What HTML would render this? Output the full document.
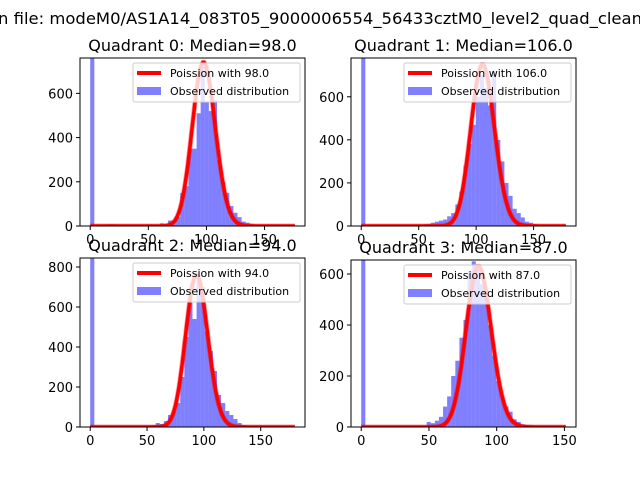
<!DOCTYPE html>
<html><head><meta charset="utf-8"><style>
html,body{margin:0;padding:0;background:#fff;}
svg{display:block;font-family:"DejaVu Sans","Liberation Sans",sans-serif;}
</style></head><body>
<svg id="fig" width="640" height="480" viewBox="0 0 640 480">
<text x="-2" y="24" font-size="16" textLength="644" lengthAdjust="spacingAndGlyphs">n file: modeM0/AS1A14_083T05_9000006554_56433cztM0_level2_quad_clean</text>
</svg>
<script>
// Quadrant data (bin counts, 50 bins from 0 to xmax)
const medians = [98.0, 106.0, 94.0, 87.0];
const xmaxes = [176, 178, 180, 151];
const peakCounts = [740, 750, 760, 630];
const q0Counts = [2000,5,5,5,8,8,6,5,5,5,5,5,5,6,8,5,6,12,5,25,20,40,150,180,350,350,510,720,560,520,570,300,200,150,90,60,40,20,15,10,5,4,3,3,3,2,2,2,2,2];
const q1Counts = [2000,3,3,3,3,3,3,3,3,3,3,3,3,4,5,8,10,15,20,25,30,45,60,100,160,280,380,470,600,700,640,560,720,400,300,200,140,80,60,40,20,15,10,5,4,3,2,2,2,2];
const q2Counts = [2000,3,3,3,3,3,3,3,3,3,3,3,3,3,3,10,20,15,30,60,80,120,250,450,620,540,760,700,480,380,280,160,120,80,60,40,20,10,5,4,3,2,2,2,2,2,2,2,2,2];
const q3Counts = [2000,3,3,3,3,3,3,3,3,3,3,3,3,3,3,3,20,15,25,40,80,120,200,260,350,420,610,650,620,560,540,400,280,180,120,80,60,30,20,10,6,4,3,2,2,2,2,2,2,2];
const allCounts = [q0Counts, q1Counts, q2Counts, q3Counts];
const xTicks = [0, 50, 100, 150];
const yTicks0 = [0, 200, 400, 600];
const yTicks2 = [0, 200, 400, 600, 800];
const allYTicks = [yTicks0, yTicks0, yTicks2, yTicks0];
const yMaxes = [760, 780, 845, 655];

const NS = "http://www.w3.org/2000/svg";
const svg = document.getElementById('fig');
function mk(tag, attrs, parent){const e=document.createElementNS(NS,tag);for(const k in attrs)e.setAttribute(k,attrs[k]);(parent||svg).appendChild(e);return e;}

const boxes = [
  {l:80,r:305,t:58,b:226},
  {l:351,r:576,t:58,b:226},
  {l:80,r:305,t:258,b:427},
  {l:351,r:576,t:260,b:427}
];

for (let q=0;q<4;q++){
  const B=boxes[q], counts=allCounts[q], xmax=xmaxes[q], n=counts.length, bw=xmax/n;
  const pad=0.05*xmax;
  const xs=v=>B.l+(v+pad)/(xmax+2*pad)*(B.r-B.l);
  const ys=v=>B.b-Math.min(v,yMaxes[q]*1.01)/yMaxes[q]*(B.b-B.t);
  const g=mk('g',{});
  
  
  const clip=mk('clipPath',{id:'c'+q},g);
  mk('rect',{x:B.l,y:B.t,width:B.r-B.l,height:B.b-B.t},clip);
  const pg=mk('g',{'clip-path':'url(#c'+q+')'},g);
  for(let i=0;i<n;i++){
    const r=mk('rect',{x:xs(i*bw),y:ys(counts[i]),width:xs((i+1)*bw)-xs(i*bw),height:B.b-ys(counts[i]),fill:'#0000ff','fill-opacity':0.5},pg);
    
    
  }
  // Poisson model curve scaled to peak
  const mu=medians[q];
  const lp=k=>{let s=-mu+k*Math.log(mu);for(let j=2;j<=k;j++)s-=Math.log(j);return s;};
  const pk=Math.exp(lp(Math.floor(mu)));
  let d='';
  for(let k=0;k<=Math.round(xmax);k++){
    const v=Math.exp(lp(k))/pk*peakCounts[q];
    d+=(k?'L':'M')+xs(k).toFixed(1)+','+ys(v).toFixed(1);
  }
  mk('path',{d:d,fill:'none',stroke:'#ff0000','stroke-width':5,'stroke-opacity':0.4},pg);
  const line2=mk('path',{d:d,fill:'none',stroke:'#ff0000','stroke-width':3.5},pg);
  
  
  const frame=mk('rect',{x:B.l,y:B.t,width:B.r-B.l,height:B.b-B.t,fill:'none',stroke:'#000','stroke-width':1},g);
  
  
  for(const t of xTicks){
    mk('line',{x1:xs(t),x2:xs(t),y1:B.b,y2:B.b+4,stroke:'#000'},g);
    const tx=mk('text',{x:xs(t),y:B.b+18,'font-size':13,'text-anchor':'middle'},g);
    tx.textContent=t;
    
    
  }
  for(const t of allYTicks[q]){
    mk('line',{x1:B.l-4,x2:B.l,y1:ys(t),y2:ys(t),stroke:'#000'},g);
    const ty=mk('text',{x:B.l-7,y:ys(t)+5,'font-size':13,'text-anchor':'end'},g);
    ty.textContent=t;
    
    
  }
  const tt=mk('text',{x:(B.l+B.r)/2,y:B.t-7,'font-size':16,'text-anchor':'middle'},g);
  tt.textContent='Quadrant '+q+': Median='+medians[q].toFixed(1);
  
  
  // legend
  const lg=mk('g',{},g);
  
  
  const lx=B.r-172, ly=B.t+5;
  mk('rect',{x:lx,y:ly,width:167,height:39,fill:'#fff','fill-opacity':0.8,stroke:'#ccc',rx:2},lg);
  mk('line',{x1:lx+4,x2:lx+28,y1:ly+10,y2:ly+10,stroke:'#ff0000','stroke-width':4},lg);
  const t1=mk('text',{x:lx+37,y:ly+14,'font-size':11},lg);
  t1.textContent='Poission with '+medians[q].toFixed(1);
  mk('rect',{x:lx+4,y:ly+24,width:24,height:8,fill:'#0000ff','fill-opacity':0.5},lg);
  const t2=mk('text',{x:lx+37,y:ly+32,'font-size':11},lg);
  t2.textContent='Observed distribution';
}
</script>
</body></html>
